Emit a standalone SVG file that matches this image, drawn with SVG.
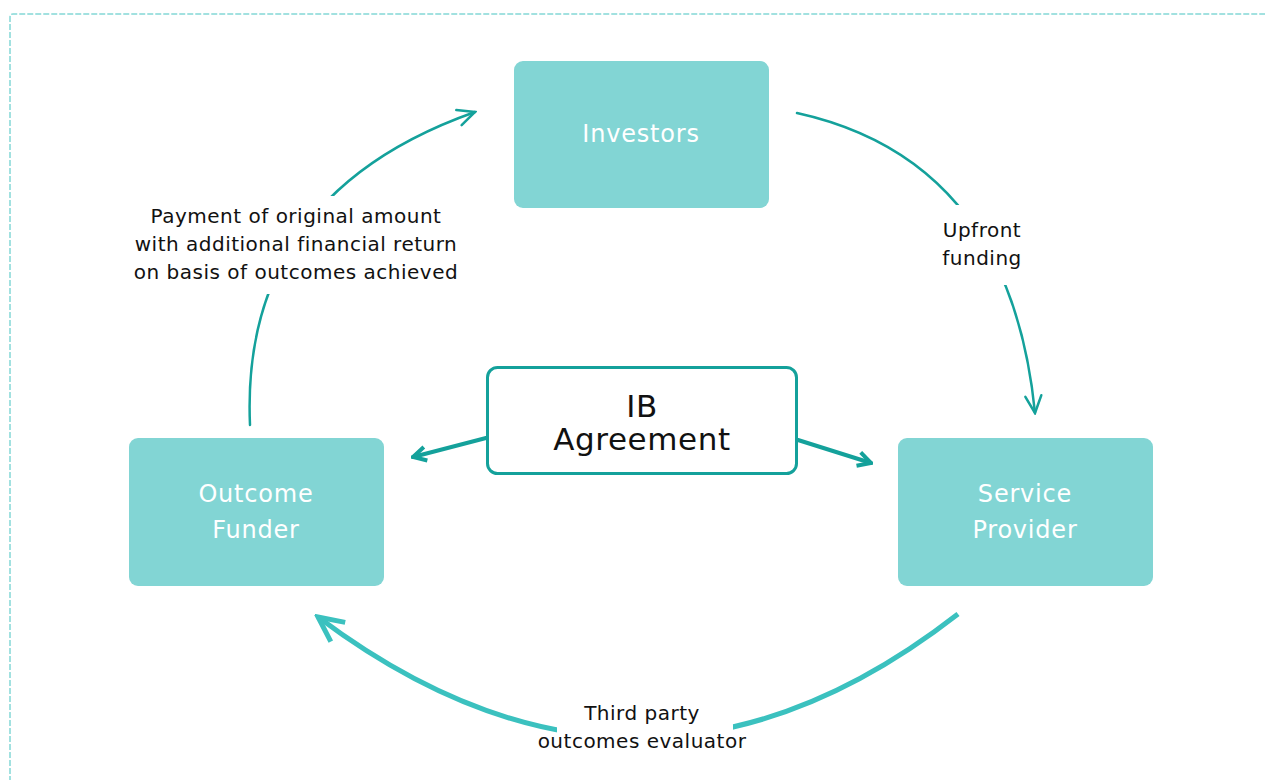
<svg xmlns="http://www.w3.org/2000/svg" width="1265" height="780" viewBox="0 0 1265 780">
<defs>
<style>
.node{fill:#82d5d4}
.ntext{fill:#ffffff;font-family:"DejaVu Sans","Open Sans",sans-serif;font-size:24px;letter-spacing:0.8px;text-anchor:middle}
.lbl{fill:#111111;font-family:"DejaVu Sans","Open Sans",sans-serif;font-size:20px;letter-spacing:0.5px;text-anchor:middle}
.ib{fill:#111111;font-family:"DejaVu Sans","Open Sans",sans-serif;font-size:31px;letter-spacing:0.6px;text-anchor:middle}
.lblbg{fill:#ffffff}
.conn{fill:none;stroke:#14a19b;stroke-width:2.5;stroke-linecap:round}
.conn2{fill:none;stroke:#14a19b;stroke-width:4;stroke-linecap:round}
.conn3{fill:none;stroke:#3bc1bf;stroke-width:5;stroke-linecap:butt}
</style>
<marker id="ah" markerUnits="userSpaceOnUse" viewBox="-20 -10 22 20" refX="0" refY="0" markerWidth="22" markerHeight="20" orient="auto">
<path d="M-17,-8 L0,0 L-17,8" fill="none" stroke="#14a19b" stroke-width="2.5" stroke-linecap="round" stroke-linejoin="miter"/>
</marker>
<marker id="ah2" markerUnits="userSpaceOnUse" viewBox="-20 -10 22 20" refX="0" refY="0" markerWidth="22" markerHeight="20" orient="auto">
<path d="M-13,-7 L0,0 L-13,7" fill="none" stroke="#14a19b" stroke-width="4" stroke-linecap="butt" stroke-linejoin="miter"/>
</marker>
<marker id="ah3" markerUnits="userSpaceOnUse" viewBox="-30 -16 34 32" refX="0" refY="0" markerWidth="34" markerHeight="32" orient="auto">
<path d="M-25,-12 L0,0 L-25,12" fill="none" stroke="#3bc1bf" stroke-width="5" stroke-linecap="butt" stroke-linejoin="miter"/>
</marker>
</defs>
<rect width="1265" height="780" fill="#ffffff"/>
<path d="M10,790 L10,17 Q10,14 13,14 L1270,14" fill="none" stroke="#84d8d6" stroke-width="1.5" stroke-dasharray="6,2"/>

<g id="connectors">
<path id="c-payment" class="conn" d="M250,425 Q240,195 475,112" marker-end="url(#ah)"/>
<path id="c-upfront" class="conn" d="M797,113 Q1010,160 1035,413" marker-end="url(#ah)"/>
<path id="c-ib-left" class="conn2" d="M486,438 L413,457" marker-end="url(#ah2)"/>
<path id="c-ib-right" class="conn2" d="M798,440 L871,463" marker-end="url(#ah2)"/>
<path id="c-evaluator" class="conn3" d="M958,614 Q642,860 318,617" marker-end="url(#ah3)"/>
</g>

<g id="label-payment">
<rect class="lblbg" x="124" y="196" width="346" height="98" rx="40"/>
<text class="lbl" x="296" y="223">Payment of original amount</text>
<text class="lbl" x="296" y="251">with additional financial return</text>
<text class="lbl" x="296" y="279">on basis of outcomes achieved</text>
</g>
<g id="label-upfront">
<rect class="lblbg" x="910" y="205" width="144" height="80" rx="35"/>
<text class="lbl" x="982" y="237">Upfront</text>
<text class="lbl" x="982" y="265">funding</text>
</g>
<g id="label-evaluator">
<rect class="lblbg" x="557" y="690" width="176" height="80" rx="35"/>
<text class="lbl" x="642" y="720">Third party</text>
<text class="lbl" x="642" y="748">outcomes evaluator</text>
</g>

<g id="node-investors">
<rect class="node" x="514" y="61" width="255" height="147" rx="9"/>
<text class="ntext" x="641" y="142">Investors</text>
</g>
<g id="node-outcome-funder">
<rect class="node" x="129" y="438" width="255" height="148" rx="9"/>
<text class="ntext" x="256" y="502">Outcome</text>
<text class="ntext" x="256" y="538">Funder</text>
</g>
<g id="node-service-provider">
<rect class="node" x="898" y="438" width="255" height="148" rx="9"/>
<text class="ntext" x="1025" y="502">Service</text>
<text class="ntext" x="1025" y="538">Provider</text>
</g>
<g id="node-ib-agreement">
<rect x="487.5" y="367.5" width="309" height="106" rx="10" fill="#ffffff" stroke="#14a19b" stroke-width="3"/>
<text class="ib" x="642" y="417">IB</text>
<text class="ib" x="642" y="450">Agreement</text>
</g>
</svg>
